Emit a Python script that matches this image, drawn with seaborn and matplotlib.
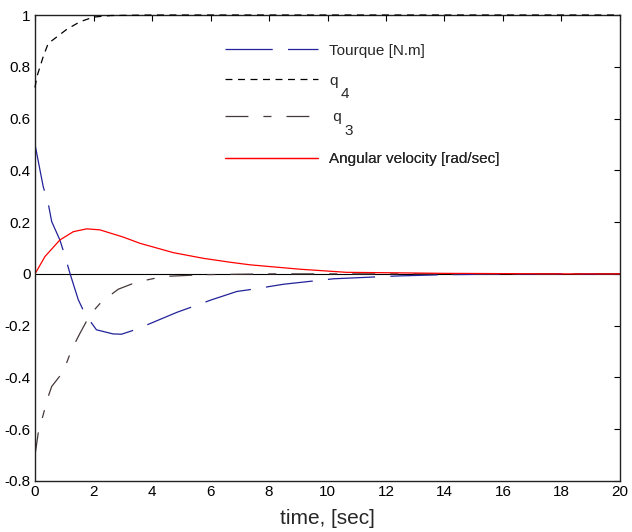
import numpy as np
import pandas as pd
import matplotlib
matplotlib.use("Agg")
import matplotlib.pyplot as plt
import seaborn as sns
from matplotlib.ticker import FuncFormatter

# ---- data ----
t_torque = [0, 0.28, 0.45, 0.57, 0.85, 1.03, 1.2, 1.48, 1.71, 2.1, 2.67, 2.96,
            3.47, 4.84, 6.04, 6.9, 7.46, 8.5, 10.2, 12.4, 14, 16, 18, 20]
torque = [0.5, 0.337, 0.273, 0.202, 0.131, 0.067, 0.0, -0.1, -0.155, -0.216,
          -0.232, -0.233, -0.214, -0.149, -0.1, -0.068, -0.059, -0.04, -0.019,
          -0.008, -0.003, -0.001, 0.0, 0.0]

t_q4 = [0, 0.06, 0.28, 0.45, 0.8, 1.09, 1.54, 2.0, 2.6, 4, 20]
q4 = [0.72, 0.76, 0.839, 0.89, 0.92, 0.945, 0.974, 0.992, 0.998, 1.0, 1.0]

t_q3 = [0, 0.11, 0.28, 0.45, 0.57, 0.97, 1.25, 1.54, 1.88, 2.28, 2.85, 3.47,
        4.39, 5.8, 8, 20]
q3 = [-0.7, -0.615, -0.544, -0.474, -0.435, -0.377, -0.293, -0.229, -0.158,
      -0.107, -0.059, -0.032, -0.01, -0.003, 0.0, 0.0]

t_omega = [0, 0.34, 0.85, 1.31, 1.77, 2.22, 3.02, 3.59, 4.73, 5.76, 6.67, 7.35,
           9.06, 10.65, 12.4, 14, 16, 18, 20]
omega = [0, 0.067, 0.131, 0.163, 0.174, 0.17, 0.142, 0.118, 0.082, 0.06, 0.045,
         0.035, 0.018, 0.006, 0.004, 0.002, 0.001, 0.0, 0.0]

labels = ["Tourque [N.m]", "q", " q", "Angular velocity [rad/sec]"]
subscripts = [None, "4", "3", None]
x_ticks = list(range(0, 21, 2))
y_ticks = [-0.8, -0.6, -0.4, -0.2, 0, 0.2, 0.4, 0.6, 0.8, 1]

# ---- style ----
sns.set_style("white")
plt.rcParams["font.family"] = ["Liberation Sans", "DejaVu Sans"]
plt.rcParams["lines.scale_dashes"] = False

fig = plt.figure(figsize=(6.32, 5.32), dpi=100)
ax = fig.add_axes([0.0554, 0.0959, 0.9256, 0.8759])

ax.axhline(0, color="black", lw=0.8, zorder=1)

series = [
    (t_torque, torque, "#22229a", (34, 11), 2),
    (t_q4, q4, "black", (5, 4), 3),
    (t_q3, q3, "#453838", (16.5, 10.8, 5.8, 10.8), 2),
    (t_omega, omega, "#ff0000", None, 2),
]
lines = []
for (tx, yy, col, dash, z), lab in zip(series, labels):
    df = pd.DataFrame({"t": tx, "v": yy})
    n_before = len(ax.lines)
    sns.lineplot(data=df, x="t", y="v", ax=ax, color=col, lw=0.9,
                 legend=False, sort=False)
    line = ax.lines[n_before]
    line.set_label(lab)
    line.set_zorder(z)
    if dash is not None:
        line.set_dashes(dash)
    lines.append(line)
lines[1].set_clip_on(False)

ax.set_xlim(0, 20)
ax.set_ylim(-0.8, 1)
ax.set_xticks(x_ticks)
ax.set_yticks(y_ticks)
ax.yaxis.set_major_formatter(FuncFormatter(lambda v, p: f"{v:g}"))
ax.tick_params(direction="in", length=4, width=0.8, top=True, right=True,
               labelsize=11, colors="black", pad=3)
for s in ax.spines.values():
    s.set_visible(True)
    s.set_color("#222222")
    s.set_linewidth(1.0)

ax.set_xlabel("time, [sec]", fontsize=15, labelpad=7)
ax.set_ylabel("")

# one legend per entry, positioned like the reference (axes fractions)
row_y = [0.9234, 0.859, 0.7805, 0.690]
for line, lab, sub, yy in zip(lines, labels, subscripts, row_y):
    leg = ax.legend([line], [lab], loc="center left",
                    bbox_to_anchor=(0.325, yy), frameon=False, fontsize=11,
                    handlelength=6.1, handletextpad=0.7, borderpad=0,
                    borderaxespad=0)
    ax.add_artist(leg)
    if sub is not None:
        txt = leg.get_texts()[0]
        ax.annotate(sub, xy=(1, 0), xycoords=txt, xytext=(2.0, 0.5),
                    textcoords="offset points", ha="left", va="top",
                    fontsize=11, zorder=10, annotation_clip=False)

fig.savefig("out.png", dpi=100)
